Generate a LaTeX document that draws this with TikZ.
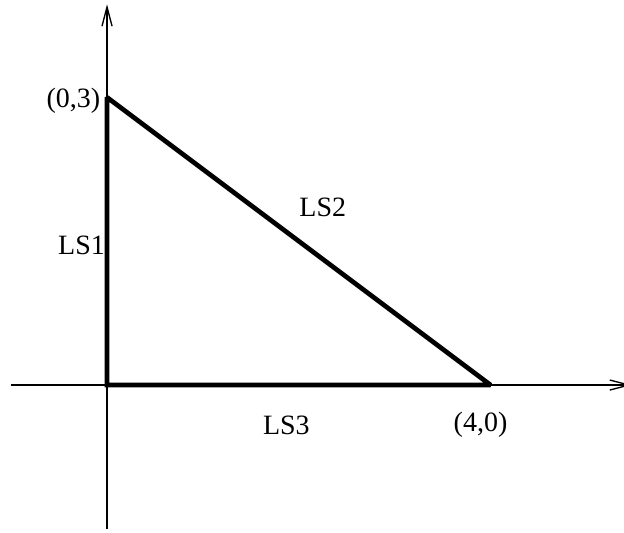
\documentclass[tikz,border=0pt]{standalone}
\usepackage{fontspec}
\setmainfont{Liberation Serif}
\usetikzlibrary{arrows.meta,positioning}

\begin{document}
\begin{tikzpicture}[
    x=1cm, y=1cm,
    axis/.style={draw=black, line width=0.4pt, -{Straight Barb[length=2mm, width=1.05mm]}},
    side/.style={draw=black, line width=1.4pt, line join=miter, miter limit=2},
    lab/.style={font=\fontsize{8.3}{10}\selectfont, inner sep=0pt}
  ]
  \useasboundingbox (-1.116,-1.533) rectangle (5.391,4.015);

  % axes
  \coordinate (xmin) at (-1.0,0);
  \coordinate (xmax) at (5.47,0);
  \coordinate (ymin) at (0,-1.5);
  \coordinate (ymax) at (0,3.97);
  \draw[axis] (xmin) -- (xmax);
  \draw[axis] (ymin) -- (ymax);

  % triangle
  \coordinate (O) at (0,0);
  \coordinate (A) at (0,3);
  \coordinate (B) at (4,0);
  \draw[side] (O) -- (A) -- (B) -- cycle;

  % corner labels
  \node[lab] (ptA) at (-0.35,2.96) {(0,3)};
  \node[lab] (ptB) at (3.895,-0.417) {(4,0)};

  % side labels
  \node[lab] (ls1) at (-0.266,1.46) {LS1};
  \node[lab] (ls2) at (2.25,1.85) {LS2};
  \node[lab] (ls3) at (1.87,-0.417) {LS3};
\end{tikzpicture}
\end{document}
